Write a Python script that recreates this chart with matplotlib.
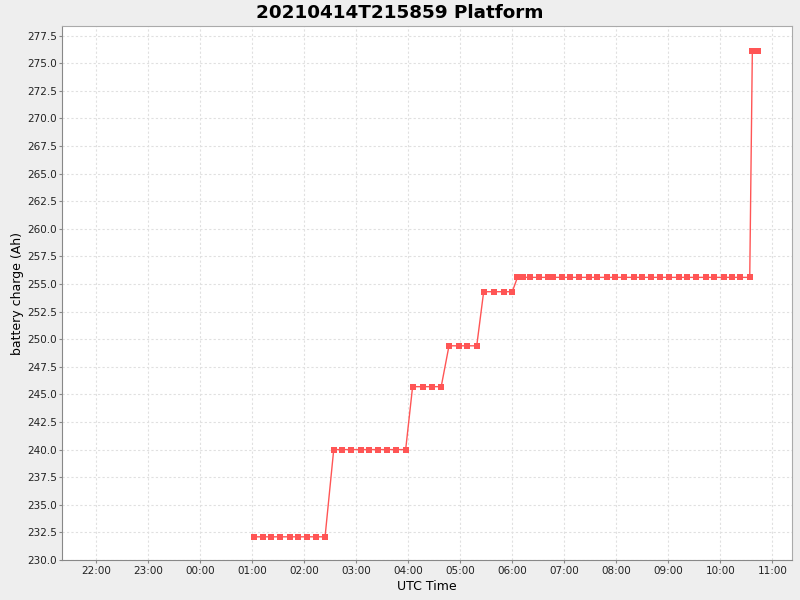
import datetime as dt
import matplotlib
matplotlib.use("Agg")
import matplotlib.pyplot as plt
import matplotlib.dates as mdates
import numpy as np

# battery charge samples (UTC time on 2021-04-15, Ah)
times = ["01:02", "01:12", "01:22", "01:32", "01:43", "01:53", "02:03", "02:14", "02:24",
         "02:34", "02:44", "02:54", "03:05", "03:15", "03:25", "03:36", "03:46", "03:57",
         "04:05", "04:17", "04:27", "04:38",
         "04:47", "04:58", "05:08", "05:19",
         "05:27", "05:39", "05:50", "06:00",
         "06:06", "06:12", "06:21", "06:31", "06:41", "06:47", "06:57", "07:07", "07:17",
         "07:28", "07:38", "07:49", "07:59", "08:09", "08:20", "08:30", "08:40", "08:51",
         "09:01", "09:12", "09:22", "09:32", "09:43", "09:53", "10:04", "10:14", "10:23",
         "10:34",
         "10:37", "10:44"]
charge = [232.1] * 9 + [240.0] * 9 + [245.7] * 4 + [249.4] * 4 + [254.3] * 4 \
    + [255.6] * 28 + [276.1] * 2

day = dt.date(2021, 4, 15)
t = [dt.datetime.combine(day, dt.datetime.strptime(s, "%H:%M").time()) for s in times]

fig = plt.figure(figsize=(8, 6), dpi=100, facecolor="#EEEEEE")
ax = fig.add_axes([62.3 / 800, 40 / 600, 730 / 800, 533.7 / 600])
ax.set_facecolor("white")

ax.plot(t, charge, color="#FF5555", lw=1, marker="s", markersize=4.9,
        markeredgewidth=0, zorder=3)

ax.set_xlim(dt.datetime(2021, 4, 14, 21, 20, 50), dt.datetime(2021, 4, 15, 11, 23, 6))
ax.set_ylim(230.0, 278.34)
ax.set_yticks(np.arange(230.0, 277.6, 2.5))
ax.yaxis.set_major_formatter(matplotlib.ticker.FormatStrFormatter("%.1f"))
ax.xaxis.set_major_locator(mdates.HourLocator())
ax.xaxis.set_major_formatter(mdates.DateFormatter("%H:%M"))

ax.grid(True, color="#E0E0E0", linestyle=(0, (2, 2)), linewidth=0.8)
ax.set_axisbelow(True)
for side in ["top", "right"]:
    ax.spines[side].set_color("#AAAAAA")
for side in ["left", "bottom"]:
    ax.spines[side].set_color("#888888")
ax.tick_params(direction="out", length=2, width=0.8, color="#888888",
               labelsize=7.5, labelcolor="#222222", pad=2)

ax.set_xlabel("UTC Time", fontsize=9, labelpad=3)
ax.set_ylabel("battery charge (Ah)", fontsize=9, labelpad=2)
fig.text(0.5, 0.979, "20210414T215859 Platform", ha="center", va="center",
         fontsize=13.2, fontweight="bold")

fig.savefig("out.png", dpi=100, facecolor=fig.get_facecolor())
